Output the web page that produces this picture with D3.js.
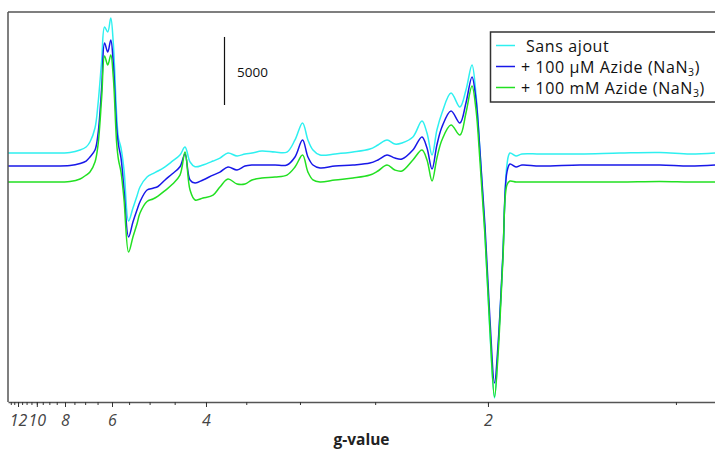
<!DOCTYPE html>
<html>
<head>
<meta charset="utf-8">
<script src="https://cdn.jsdelivr.net/npm/d3@7"></script>
<style>
  html, body { margin: 0; padding: 0; background: #fff; }
  svg { display: block; }
</style>
</head>
<body>
<svg id="chart" width="715" height="450"></svg>
<script>
// Magnetic field (mT) sampled from the spectra; g = K / B (X-band, 9.4 GHz)
const K = 671.6;
const field = [50.0, 63.1, 75.0, 86.9, 92.9, 96.5, 98.8, 101.8, 103.6, 105.8,
  107.5, 109.4, 111.2, 112.7, 114.7, 115.8, 117.3, 119.1, 121.8, 124.4,
  126.8, 128.6, 132.8, 136.3, 139.3, 143.5, 147.7, 152.4, 155.4, 158.4,
  161.4, 166.1, 172.1, 176.2, 181.0, 186.4, 191.1, 195.3, 201.2, 209.0,
  216.1, 220.9, 225.4, 228.6, 231.6, 235.8, 244.7, 255.4, 265.5, 270.3,
  275.7, 280.4, 284.6, 291.1, 296.5, 299.5, 302.5, 305.4, 308.4, 313.8,
  319.1, 322.7, 326.3, 328.7, 331.0, 334.0, 337.0, 339.7, 341.8, 344.7,
  347.1, 348.9, 352.5, 356.0, 366.8, 390.6, 414.4, 438.2, 456.1, 471.0];

const sansAjout = [0, 0, 0, 40, 220, 440, 810, 1840, 3600, 6840,
  9260, 8890, 9920, 8090, 2790, 1100, 370, -1250, -5000, -4040,
  -3160, -2500, -1760, -1510, -1320, -1010, -620, -150, 440, -660,
  -1010, -880, -590, -370, 0, -220, -70, 0, 150, 70,
  70, 960, 2210, 960, 220, -150, -70, 70, 290, 590,
  960, 660, 740, 1180, 2350, 1470, -150, 1690, 2940, 4410,
  3380, 4630, 6470, 4260, 220, -5880, -13230, -18010, -14480, -7500,
  -880, 0, -220, -70, -70, -70, 0, 40, -70, 0];

const azide100uM = [-960, -960, -960, -920, -770, -590, -290, 220, 1400, 4850,
  8090, 7420, 8310, 6620, 1910, 590, -370, -2720, -6170, -5070,
  -4190, -3580, -2720, -2590, -2460, -1980, -1540, -1010, -70, -1980,
  -2210, -1980, -1620, -1400, -1030, -1250, -960, -880, -880, -880,
  -880, -290, 960, -290, -880, -1100, -960, -880, -740, -510,
  -150, -370, -440, 220, 1180, 370, -1180, 590, 1910, 3090,
  2210, 3680, 5590, 3900, 220, -5290, -12270, -16910, -14110, -7500,
  -1400, -810, -1030, -880, -960, -880, -880, -880, -960, -880];

const azide100mM = [-2130, -2130, -2130, -2090, -1910, -1620, -1400, -660, 590, 4120,
  7130, 6470, 7200, 5590, 740, -510, -1400, -3450, -7280, -6170,
  -5220, -4410, -3560, -3380, -3160, -2760, -2320, -1620, 70, -2720,
  -3450, -3310, -3090, -2500, -1910, -2280, -2280, -1980, -1840, -1760,
  -1620, -1030, -150, -1400, -1980, -2130, -1980, -1840, -1620, -1320,
  -880, -1250, -1320, -510, 220, -510, -2060, -370, 960, 2060,
  1320, 2940, 4920, 3160, -510, -6030, -13010, -17930, -14850, -7860,
  -2350, -2060, -2130, -2130, -2130, -2130, -2130, -2090, -2130, -2130];

const seriesNames = ["Sans ajout", "+ 100 \u00b5M Azide (NaN", "+ 100 mM Azide (NaN"];
const seriesSubs = ["", "3", "3"];
const seriesColors = ["#2ef0f0", "#1818e8", "#22e022"];

// g-value ticks
const gMinorTicks = d3.range(13, 1.49, -0.5);
const gMajorTicks = [12, 10, 8, 6, 4, 2];
const scaleBarValue = 5000;
const scaleBarBase = 3530;

const svg = d3.select("#chart");
const pL = 8, pR = 715, pT = 12, pB = 402;

const x = d3.scaleLinear().domain([50, 471]).range([pL, pR]);
const y = d3.scaleLinear().domain([-18300, 10365]).range([pB, pT]);

svg.append("defs").append("clipPath").attr("id", "clip")
  .append("rect").attr("x", pL).attr("y", pT).attr("width", pR - pL).attr("height", pB - pT);

const series = [sansAjout, azide100uM, azide100mM];
const line = d3.line()
  .x((d, i) => x(field[i]))
  .y(d => y(d))
  .curve(d3.curveCatmullRom.alpha(0.5));

const plot = svg.append("g").attr("clip-path", "url(#clip)");
series.forEach((s, k) => {
  plot.append("path")
    .datum(s)
    .attr("fill", "none")
    .attr("stroke", seriesColors[k])
    .attr("stroke-width", 1.5)
    .attr("stroke-linejoin", "round")
    .attr("d", line);
});

// frame: left and top
svg.append("line").attr("x1", pL).attr("x2", pL).attr("y1", pT).attr("y2", pB)
  .attr("stroke", "#555").attr("stroke-width", 1.5);
svg.append("line").attr("x1", pL).attr("x2", pR).attr("y1", pT).attr("y2", pT)
  .attr("stroke", "#555").attr("stroke-width", 1.5);

// bottom axis: minor ticks
const minorAxis = d3.axisBottom(x)
  .tickValues(gMinorTicks.map(g => K / g))
  .tickSize(3).tickSizeOuter(0).tickFormat("");
const gMinor = svg.append("g").attr("transform", `translate(0,${pB})`).call(minorAxis);
gMinor.select(".domain").attr("stroke", "#555").attr("stroke-width", 1.5);
gMinor.selectAll(".tick line").attr("stroke", "#333");

const majorAxis = d3.axisBottom(x)
  .tickValues(gMajorTicks.map(g => K / g))
  .tickSize(5).tickSizeOuter(0)
  .tickFormat(b => d3.format("d")(Math.round(K / b)));
const gMajor = svg.append("g").attr("transform", `translate(0,${pB})`).call(majorAxis);
gMajor.select(".domain").remove();
gMajor.selectAll(".tick line").attr("stroke", "#333");
gMajor.selectAll(".tick text")
  .attr("y", 13)
  .attr("dy", "0.71em")
  .attr("font-family", "'Open Sans', sans-serif")
  .attr("font-style", "italic")
  .attr("font-size", 16)
  .attr("fill", "#444");

svg.append("text")
  .attr("x", (pL + pR) / 2).attr("y", 445)
  .attr("text-anchor", "middle")
  .attr("font-family", "'Open Sans', sans-serif")
  .attr("font-weight", "bold")
  .attr("font-size", 15.5)
  .attr("fill", "#222")
  .text("g-value");

// scale bar
svg.append("line")
  .attr("x1", 224.5).attr("x2", 224.5)
  .attr("y1", y(scaleBarBase)).attr("y2", y(scaleBarBase + scaleBarValue))
  .attr("stroke", "#111").attr("stroke-width", 1.2);
svg.append("text")
  .attr("x", 237).attr("y", 77)
  .attr("font-family", "'Open Sans', sans-serif")
  .attr("font-size", 13.5)
  .attr("fill", "#111")
  .text(d3.format("d")(scaleBarValue));

// legend
const lg = svg.append("g");
lg.append("rect").attr("x", 490.5).attr("y", 32).attr("width", 240).attr("height", 70)
  .attr("fill", "#fff").attr("stroke", "#333").attr("stroke-width", 1.5);
seriesNames.forEach((name, k) => {
  const cy = 45.5 + k * 21;
  lg.append("line").attr("x1", 496).attr("x2", 515).attr("y1", cy).attr("y2", cy)
    .attr("stroke", seriesColors[k]).attr("stroke-width", 1.5);
  const t = lg.append("text")
    .attr("x", k === 0 ? 526 : 521).attr("y", cy + 6.5)
    .attr("font-family", "'Open Sans', sans-serif")
    .attr("font-size", 16)
    .attr("letter-spacing", 0.6)
    .attr("fill", "#111");
  t.append("tspan").text(name);
  if (seriesSubs[k]) {
    t.append("tspan").attr("dy", 2.5).attr("font-size", 10.5).text(seriesSubs[k]);
    t.append("tspan").attr("dy", -2.5).text(")");
  }
});
</script>
</body>
</html>
